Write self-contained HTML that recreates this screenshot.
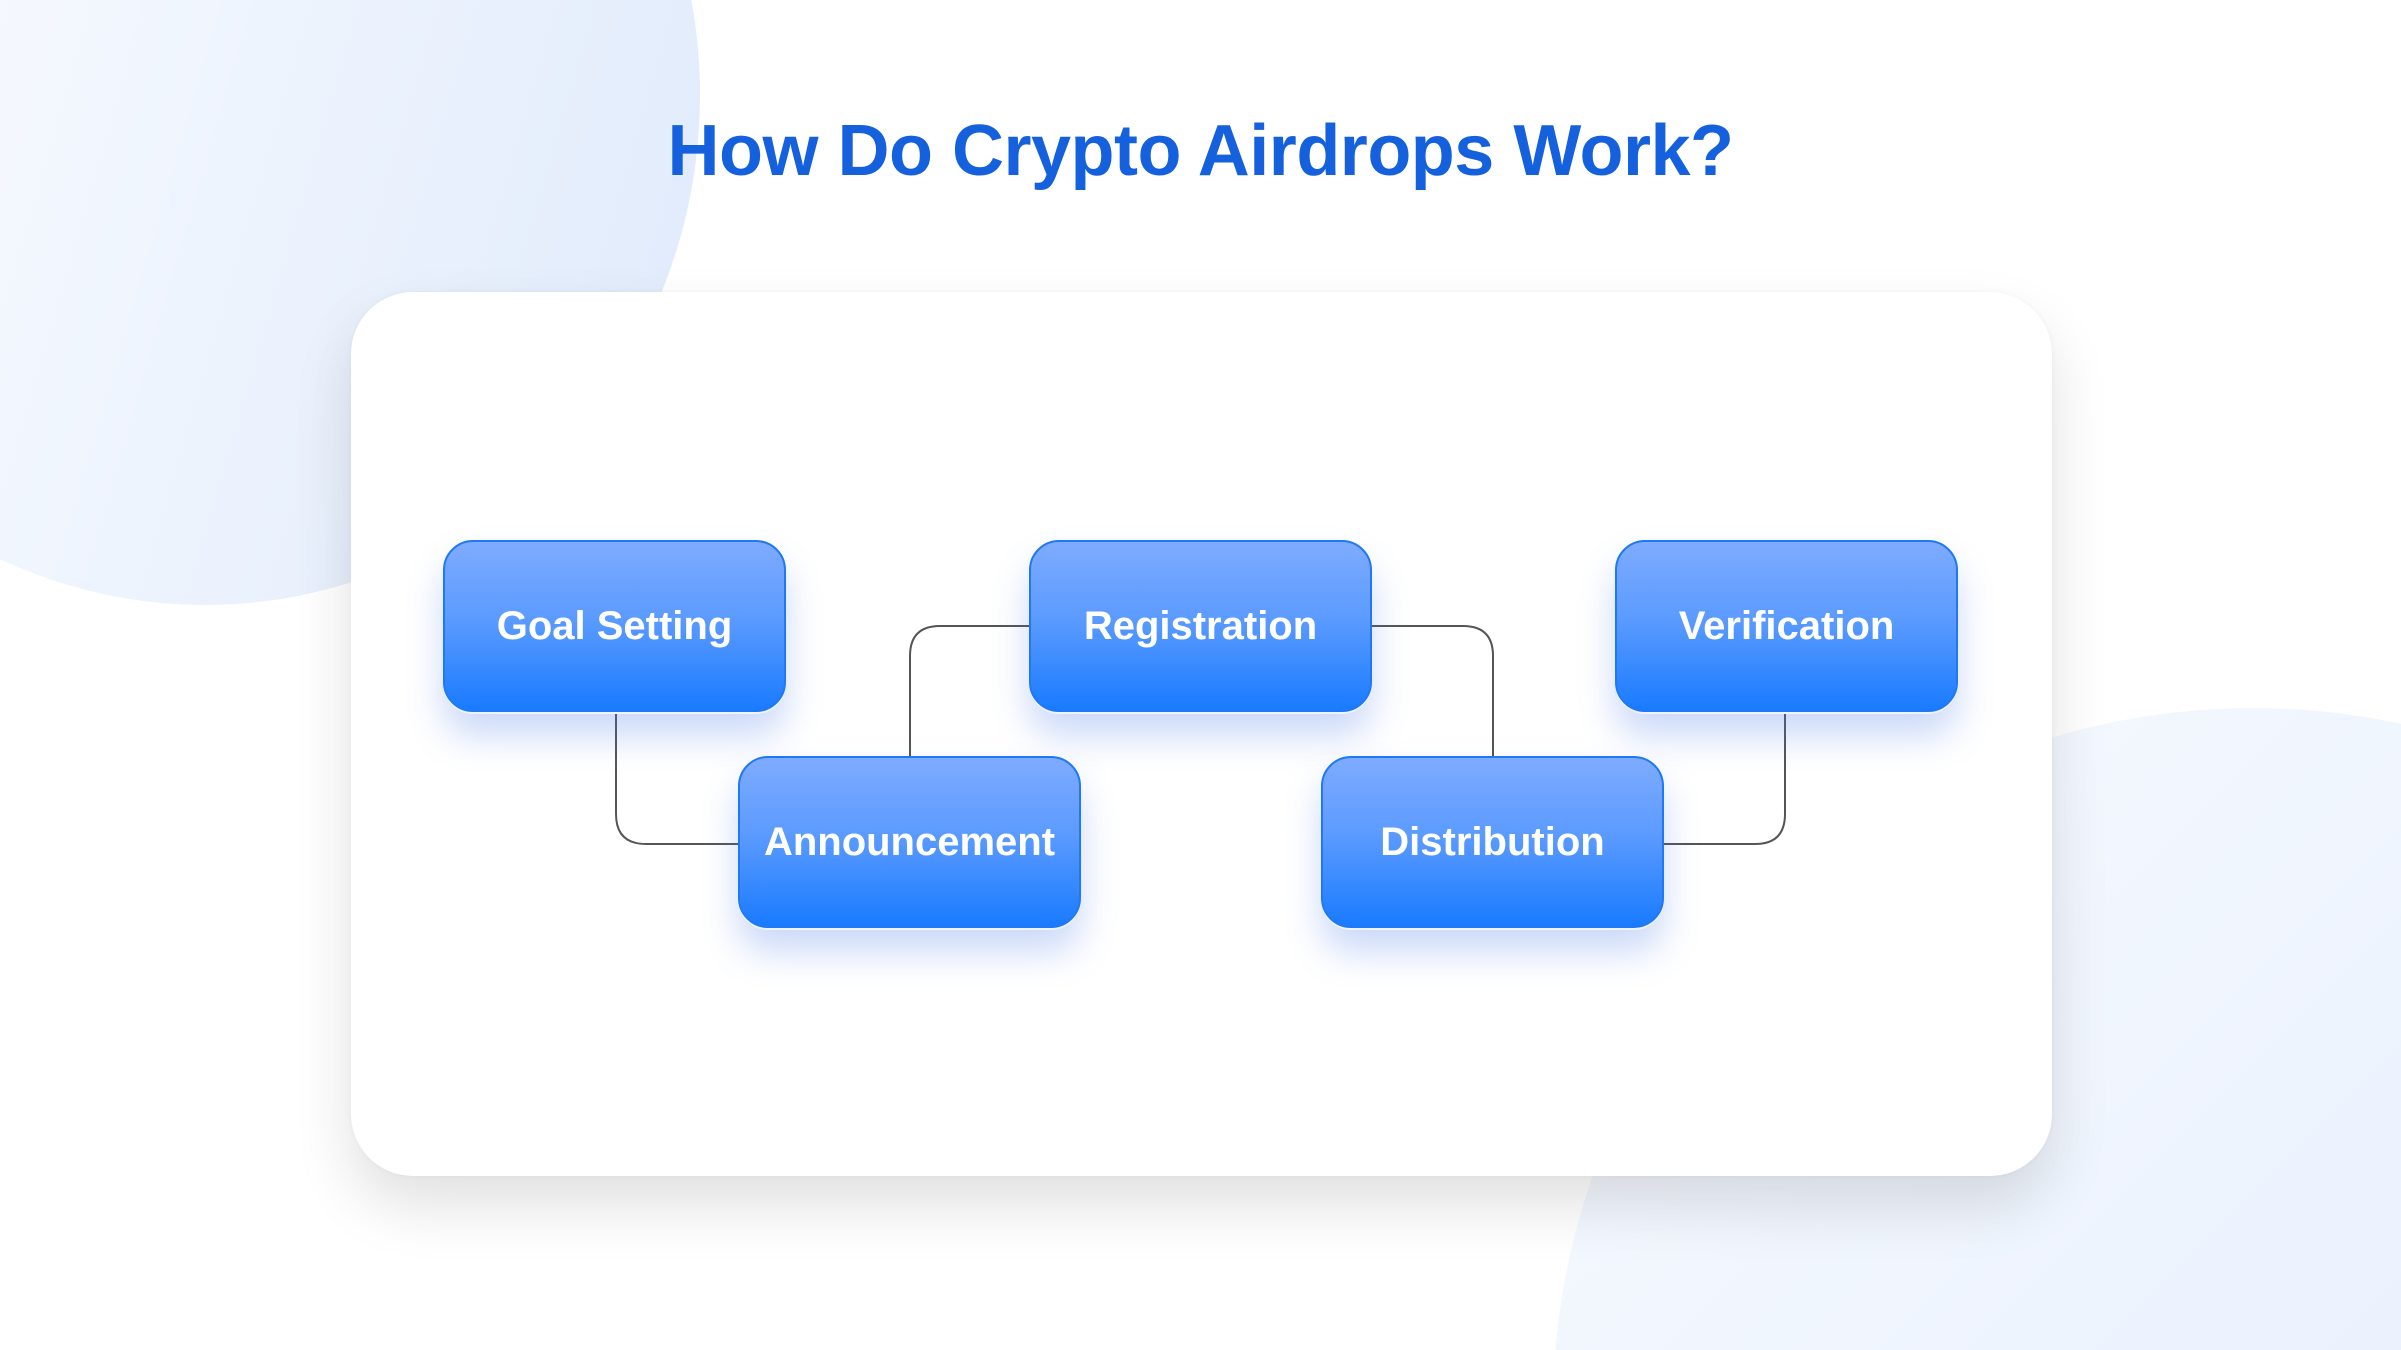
<!DOCTYPE html>
<html><head><meta charset="utf-8"><style>
html,body{margin:0;padding:0;width:2401px;height:1350px;overflow:hidden}
body{background:#fff;font-family:"Liberation Sans",sans-serif}
#wrap{position:relative;width:2401px;height:1350px;overflow:hidden;background:#fff}
.card{position:absolute;left:351px;top:292px;width:1701px;height:884px;border-radius:62px;background:#fff;box-shadow:0 30px 60px rgba(0,0,0,0.12),0 0 6px rgba(0,0,0,0.04)}
.node{position:absolute;width:343px;height:172px;border-radius:30px;background:linear-gradient(#7eabff,#5c9bff 45%,#1a7bff);border:2px solid #1f78f5;box-sizing:border-box;color:#fff;font-weight:bold;font-size:40px;display:flex;align-items:center;justify-content:center;box-shadow:0 2px 0 #eef3ff,0 24px 36px rgba(70,120,230,0.28)}
h1{position:absolute;left:0;width:2401px;top:110px;margin:0;text-align:center;color:#1560dd;font-size:72px;font-weight:bold;letter-spacing:-0.5px}
</style></head><body><div id="wrap">
<svg style="position:absolute;left:0;top:0" width="2401" height="1350">
<defs>
<linearGradient id="g1" x1="0" y1="0.3" x2="1" y2="0.6"><stop offset="0" stop-color="#fdfeff"/><stop offset="1" stop-color="#e2ecfc"/></linearGradient>
<linearGradient id="g2" x1="0" y1="0" x2="1" y2="1"><stop offset="0" stop-color="#f8fbff"/><stop offset="1" stop-color="#dfe9fc"/></linearGradient>
</defs>
<ellipse cx="205" cy="95" rx="495" ry="510" fill="url(#g1)"/>
<circle cx="2253" cy="1408" r="700" fill="url(#g2)"/>
</svg>
<h1>How Do Crypto Airdrops Work?</h1>
<div class="card"></div>
<svg style="position:absolute;left:0;top:0" width="2401" height="1350">
<g fill="none" stroke="#555" stroke-width="2">
<path d="M616 712 V814 Q616 844 646 844 H740"/>
<path d="M910 756 V656 Q910 626 940 626 H1030"/>
<path d="M1372 626 H1463 Q1493 626 1493 656 V756"/>
<path d="M1664 844 H1755 Q1785 844 1785 814 V712"/>
</g></svg>
<div class="node" style="left:443px;top:540px">Goal Setting</div>
<div class="node" style="left:1029px;top:540px">Registration</div>
<div class="node" style="left:1615px;top:540px">Verification</div>
<div class="node" style="left:738px;top:756px">Announcement</div>
<div class="node" style="left:1321px;top:756px">Distribution</div>
</div></body></html>
